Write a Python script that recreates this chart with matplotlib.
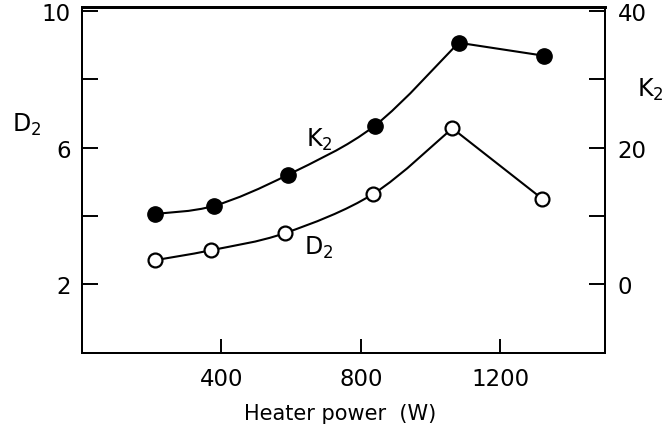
import numpy as np
import matplotlib
matplotlib.use("Agg")
import matplotlib.pyplot as plt
from matplotlib.path import Path
from matplotlib.patches import PathPatch

# values
power_k2 = [210, 380, 590, 840, 1080, 1325]
k2 = [10.3, 11.5, 16.0, 23.2, 35.3, 33.4]
power_d2 = [210, 370, 582, 836, 1062, 1320]
d2 = [2.71, 3.0, 3.5, 4.65, 6.56, 4.5]

x_ticks = [400, 800, 1200]
d2_ticks = [2, 4, 6, 8, 10]
d2_labels = ['2', '', '6', '', '10']
k2_ticks = [0, 10, 20, 30, 40]
k2_labels = ['0', '', '20', '', '40']

plt.rcParams['font.family'] = ['DejaVu Sans']


def curve_then_line(xs, ys, n_smooth):
    # catmull-rom curve through the first n_smooth points, straight after that
    p = np.column_stack([xs, ys]).astype(float)
    verts = [p[0]]
    codes = [Path.MOVETO]
    for i in range(n_smooth - 1):
        a = p[max(i - 1, 0)]
        b = p[min(i + 2, n_smooth - 1)]
        c1 = p[i] + (p[i + 1] - a) / 6.0
        c2 = p[i + 1] - (b - p[i]) / 6.0
        verts += [c1, c2, p[i + 1]]
        codes += [Path.CURVE4] * 3
    for i in range(n_smooth, len(p)):
        verts.append(p[i])
        codes.append(Path.LINETO)
    return Path(verts, codes)


fig = plt.figure(figsize=(6.65, 4.27), dpi=100)
ax = fig.add_axes([0.123, 0.171, 0.787, 0.810])
ax2 = ax.twinx()

ax.set_xlim(0, 1500)
ax.set_ylim(0, 10.1)
ax2.set_ylim(-10, 40.5)

lw = 1.5
ax.add_patch(PathPatch(curve_then_line(power_d2, d2, 5), fill=False, lw=lw, color='black', zorder=2))
ax2.add_patch(PathPatch(curve_then_line(power_k2, k2, 5), fill=False, lw=lw, color='black', zorder=2))

ax.plot(power_d2, d2, 'o', ls='none', ms=10, mfc='white', mec='black', mew=1.6, zorder=3)
ax2.plot(power_k2, k2, 'o', ls='none', ms=11, mfc='black', mec='black', zorder=3)

ax.set_xticks(x_ticks)
ax.set_xticklabels([str(v) for v in x_ticks])
ax.set_yticks(d2_ticks)
ax.set_yticklabels(d2_labels)
ax2.set_yticks(k2_ticks)
ax2.set_yticklabels(k2_labels)

ax.tick_params(axis='x', direction='in', length=10, width=1.4, pad=10, labelsize=16.5)
ax.tick_params(axis='y', direction='in', length=11.5, width=1.4, pad=8, labelsize=16.5, right=False)
ax2.tick_params(axis='y', direction='in', length=11.5, width=1.4, pad=9, labelsize=16.5)

for a in (ax, ax2):
    for s in a.spines.values():
        s.set_linewidth(1.4)
    a.spines['top'].set_linewidth(2)

ax.text(680, 6.26, 'K$_2$', fontsize=17, ha='center', va='center')
ax.text(680, 3.09, 'D$_2$', fontsize=17, ha='center', va='center')

fig.text(27 / 665, 1 - 125 / 427, 'D$_2$', fontsize=17, ha='center', va='center')
fig.text(650 / 665, 1 - 90 / 427, 'K$_2$', fontsize=17, ha='center', va='center')
fig.text(340 / 665, 1 - 414 / 427, 'Heater power  (W)', fontsize=15, ha='center', va='center')

fig.savefig('out.png', dpi=100)
